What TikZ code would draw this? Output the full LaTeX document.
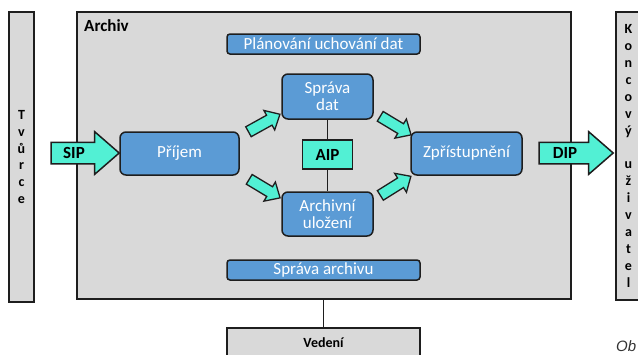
\documentclass[tikz,border=0pt]{standalone}
\usepackage{fontspec}
\setmainfont{Carlito}
\newfontfamily\capfont{Liberation Sans}
\usetikzlibrary{shapes.arrows}
\definecolor{boxblue}{RGB}{91,155,213}
\definecolor{turq}{RGB}{82,240,212}
\definecolor{panelgray}{RGB}{217,217,217}
\definecolor{edge}{RGB}{30,30,30}
\tikzset{
  panel/.style={draw=edge, line width=1.3pt, fill=panelgray, inner sep=0pt},
  sidebar/.style={panel, align=center, font=\fontsize{14}{16.9}\selectfont\bfseries},
  func/.style={draw=edge, line width=1.5pt, fill=boxblue, rounded corners=6pt, text=white,
    align=center, inner sep=0pt, font=\fontsize{17}{17}\selectfont},
  bar/.style={func, rounded corners=3pt},
  pkg/.style={draw=edge, line width=1.5pt, fill=turq, inner sep=0pt,
    font=\fontsize{17}{17}\selectfont\bfseries},
  bigarrow/.style={single arrow, draw=edge, line width=1.5pt, fill=turq,
    inner xsep=0pt, inner ysep=2pt, text height=12pt, text depth=4pt, text width=0pt,
    minimum width=41pt, single arrow head extend=10.5pt, single arrow tip angle=82},
  smallarrow/.style={single arrow, draw=edge, line width=1.3pt, fill=turq,
    inner xsep=0pt, inner ysep=5pt, text height=0pt, text depth=0pt, text width=0pt,
    minimum height=36pt, minimum width=21pt, single arrow head extend=5.5pt,
    single arrow tip angle=85},
  arrowlbl/.style={inner sep=0pt, font=\fontsize{17}{17}\selectfont\bfseries},
  link/.style={draw=edge, line width=1.3pt}
}
\begin{document}
\begin{tikzpicture}[x=1pt,y=-1pt]
\useasboundingbox (0,0) rectangle (638,354);
\begin{scope}
\clip (0,0) rectangle (638,354);
% side bars
\node[sidebar, minimum width=25pt, minimum height=290pt] (tvurce) at (21.5,157)
  {T\\v\\ů\\r\\c\\e};
\node[sidebar, minimum width=25pt, minimum height=288pt] (uzivatel) at (628.5,156)
  {K\\o\\n\\c\\o\\v\\ý\\\mbox{}\\u\\ž\\i\\v\\a\\t\\e\\l};
% archive panel
\node[panel, minimum width=494pt, minimum height=287pt] (archiv) at (324,155.5) {};
\node[anchor=base west, inner sep=0pt, font=\fontsize{17}{17}\selectfont\bfseries] (archivlbl) at (84,31) {Archiv};
% management
\node[panel, minimum width=193pt, minimum height=42pt] (vedeni) at (323.5,349) {};
\node[inner sep=0pt, font=\fontsize{14}{14}\selectfont\bfseries] (vedenilbl) at (323.5,343) {Vedení};
\draw[link] (archiv.south -| vedeni.north) -- (vedeni.north);
% bars
\node[bar, minimum width=193pt, minimum height=20pt] (planovani) at (323.5,44) {Plánování uchování dat};
\node[bar, minimum width=193pt, minimum height=20pt] (spravaarch) at (323.5,270) {Správa archivu};
% functions
\node[func, minimum width=91pt, minimum height=45pt] (spravadat) at (327.5,96.5) {Správa\\dat};
\node[pkg, minimum width=50pt, minimum height=29pt] (aip) at (327.5,154.5) {AIP};
\node[func, minimum width=91pt, minimum height=44pt] (ulozeni) at (327.5,214) {Archivní\\uložení};
\node[func, minimum width=119pt, minimum height=43pt] (prijem) at (179.5,153.5) {Příjem};
\node[func, minimum width=111pt, minimum height=43pt] (zpristup) at (466.5,153.5) {Zpřístupnění};
\draw[link] (spravadat.south) -- (aip.north);
\draw[link] (aip.south) -- (ulozeni.north);
% block arrows
\node[bigarrow, minimum height=68pt] (sip) at (79,153) {};
\node[arrowlbl] (siplbl) at (74,153) {SIP};
\node[bigarrow, minimum height=74pt] (dip) at (570,153) {};
\node[arrowlbl] (diplbl) at (565,153) {DIP};
\node[smallarrow, rotate=29] (a1) at (261.5,124.5) {};
\node[smallarrow, rotate=-31] (a2) at (262,187) {};
\node[smallarrow, rotate=-31] (a3) at (393,124) {};
\node[smallarrow, rotate=32] (a4) at (393,187.5) {};
% caption fragment
\node[anchor=base west, inner sep=0pt, text=black!80, font=\capfont\itshape\fontsize{15}{15}\selectfont] (cap) at (616,351.5) {Ob};
\end{scope}
\end{tikzpicture}
\end{document}
